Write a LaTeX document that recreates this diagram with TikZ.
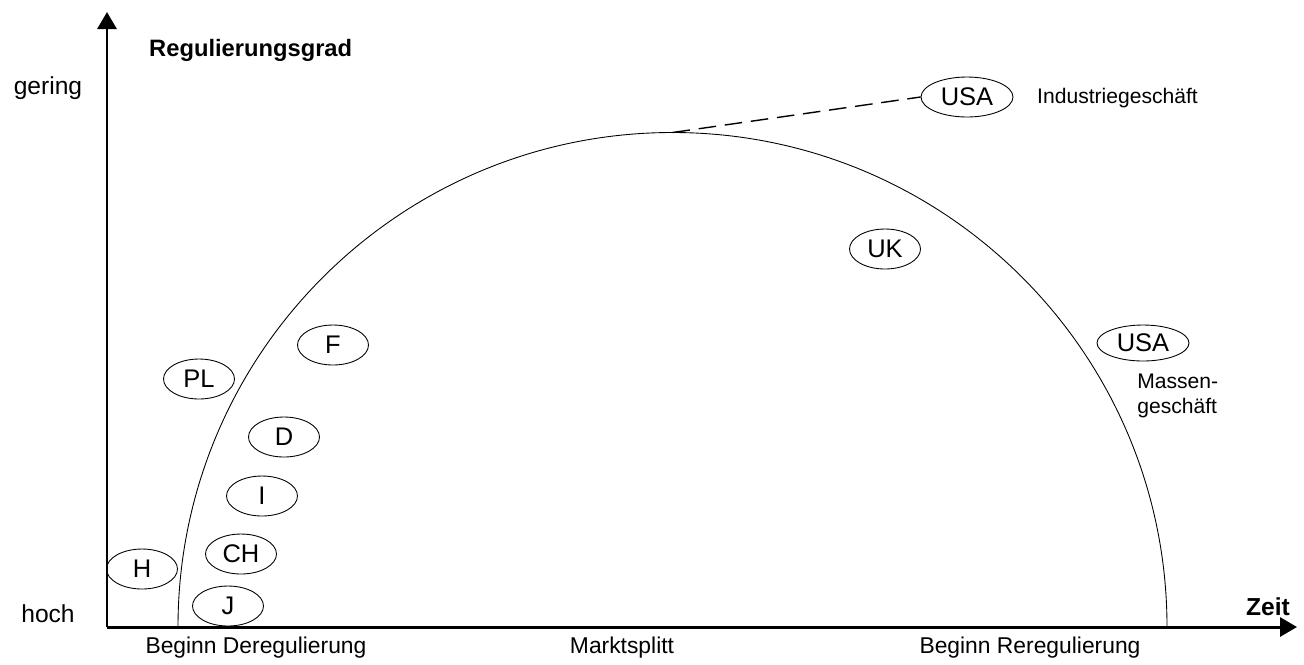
\documentclass[tikz,border=0pt]{standalone}
\usepackage{fontspec}
\setmainfont{Liberation Sans}
\usetikzlibrary{shapes.geometric,arrows.meta}
\begin{document}
\begin{tikzpicture}[x=0.02cm,y=-0.02cm,
    land/.style={ellipse,draw,line width=0.5pt,minimum width=1.42cm,minimum height=0.8cm,inner sep=0pt,font=\fontsize{14.5}{16}\selectfont},
    achse/.style={line width=1.7pt,-{Triangle[length=0.34cm,width=0.38cm]}},
    gross/.style={font=\fontsize{14}{16}\selectfont},
    unten/.style={font=\fontsize{13}{15}\selectfont},
    klein/.style={font=\fontsize{12}{14}\selectfont}]
  \useasboundingbox (0,0) rectangle (1304,664);
  % Achsen
  \coordinate (o) at (107,627);
  \coordinate (yend) at (107,12);
  \coordinate (xend) at (1297,627);
  \draw[achse] (o) -- (yend);
  \draw[achse] (o) -- (xend);
  \node[gross] (gering) at (48,88) {gering};
  \node[gross] (hoch) at (48,614) {hoch};
  \node[unten,anchor=west,font=\fontsize{13.5}{15}\selectfont] (grad) at (143,50) {\bfseries Regulierungsgrad};
  \node[gross,anchor=east] (zeit) at (1296,607) {\bfseries Zeit};
  \node[unten] (dereg) at (256,648) {Beginn Deregulierung};
  \node[unten] (split) at (622,648) {Marktsplitt};
  \node[unten] (rereg) at (1030,648) {Beginn Reregulierung};
  % Bogen
  \coordinate (fuss) at (178,627);
  \coordinate (gipfel) at (672.5,132.5);
  \draw[line width=0.5pt] (fuss) arc[start angle=180,end angle=360,radius=494.5];
  % Laender
  \node[land] (pl) at (199,379) {PL};
  \node[land] (f) at (333,345) {F};
  \node[land] (d) at (284,437) {D};
  \node[land] (i) at (262,496) {I};
  \node[land] (ch) at (241,554) {CH};
  \node[land] (h) at (142,569) {H};
  \node[land] (j) at (228,606) {J};
  \node[land] (uk) at (885,249) {UK};
  \node[land,minimum width=1.84cm] (usaind) at (967,97) {USA};
  \node[land,minimum width=1.84cm,minimum height=0.72cm] (usamass) at (1143,343) {USA};
  \draw[dashed,dash pattern=on 10pt off 5pt,line width=0.8pt] (gipfel) -- (usaind.west);
  \node[klein,anchor=west] (ind) at (1031,98) {Industriegeschäft};
  \node[klein,anchor=north west,align=left,inner sep=0pt] (mass) at (1137,374) {Massen-\\geschäft};
\end{tikzpicture}
\end{document}
